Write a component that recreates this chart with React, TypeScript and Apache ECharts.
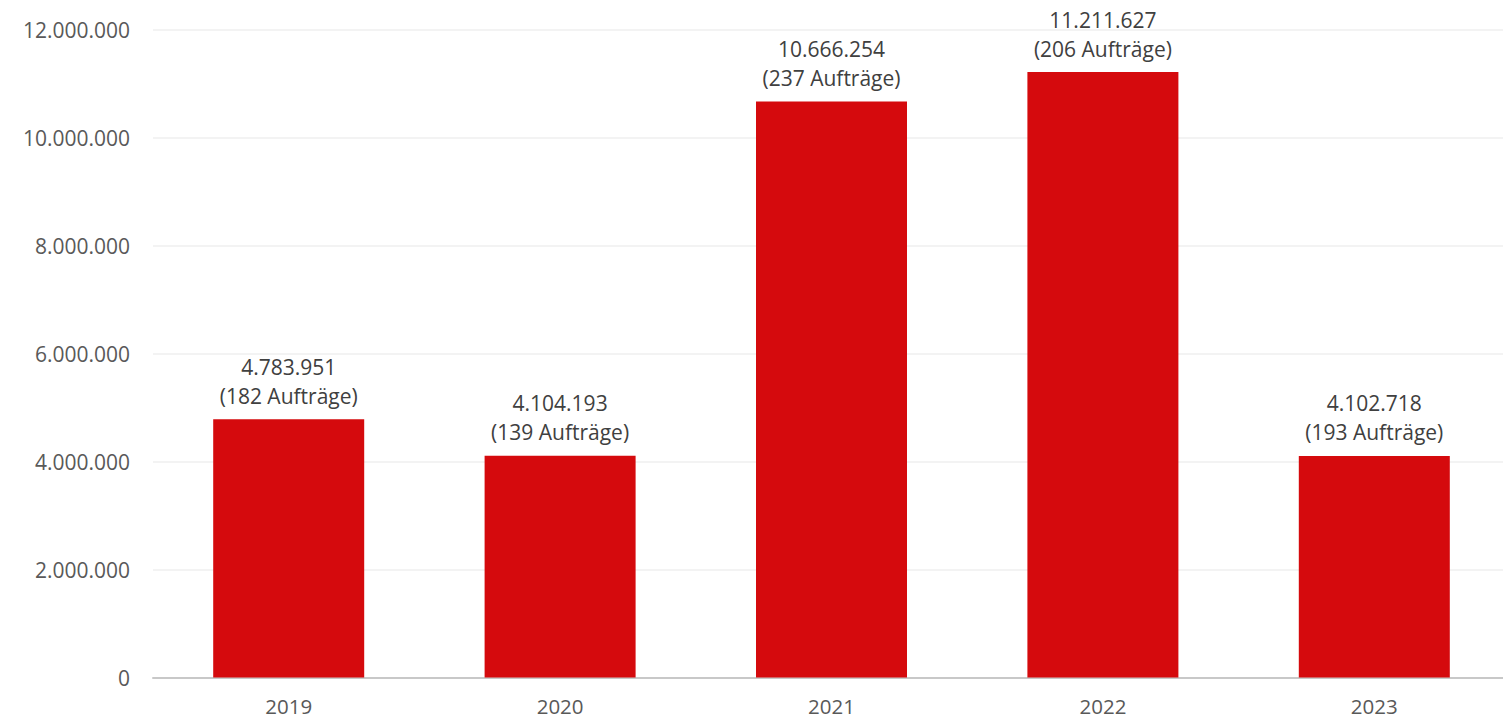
import React, { useEffect, useRef } from "react";
import * as echarts from "echarts";

const years = ["2019", "2020", "2021", "2022", "2023"];
const volumes = [4783951, 4104193, 10666254, 11211627, 4102718];
const orders = [182, 139, 237, 206, 193];

const fmt = (v: number) => String(Math.round(v)).replace(/\B(?=(\d{3})+(?!\d))/g, ".");

const FONT = "'Open Sans', sans-serif";

export default function App() {
  const ref = useRef<HTMLDivElement>(null);
  useEffect(() => {
    if (!ref.current) return;
    const chart = echarts.init(ref.current, undefined, { renderer: "svg" });
    chart.setOption({
      animation: false,
      backgroundColor: "#ffffff",
      grid: { left: 153, top: 29.5, bottom: 42.5, width: 1357, containLabel: false, outerBoundsMode: "none" },
      xAxis: {
        type: "category",
        data: years,
        axisLine: { show: true, lineStyle: { color: "#C8C8C8", width: 2 } },
        axisTick: { show: false },
        axisLabel: { color: "#595959", fontSize: 20.5, fontFamily: FONT, margin: 18, lineHeight: 21 },
        splitLine: { show: false },
      },
      yAxis: {
        type: "value",
        min: 0,
        max: 12000000,
        interval: 2000000,
        axisLine: { show: false },
        axisTick: { show: false },
        axisLabel: { color: "#595959", fontSize: 21, fontFamily: FONT, margin: 23, formatter: (v: number) => fmt(v) },
        splitLine: { show: true, lineStyle: { color: "#EFEFEF", width: 1.5 } },
      },
      series: [
        {
          type: "bar",
          data: volumes,
          barWidth: 151,
          itemStyle: { color: "#D50A0D" },
          label: {
            show: true,
            position: "top",
            distance: 9,
            color: "#404040",
            fontSize: 21,
            fontFamily: FONT,
            lineHeight: 29,
            align: "center",
            formatter: (p: any) => `${fmt(p.value)}\n(${orders[p.dataIndex]} Aufträge)`,
          },
        },
      ],
    });
    return () => chart.dispose();
  }, []);
  return <div ref={ref} style={{ position: "absolute", left: 0, top: 0, width: 1503, height: 720 }} />;
}
